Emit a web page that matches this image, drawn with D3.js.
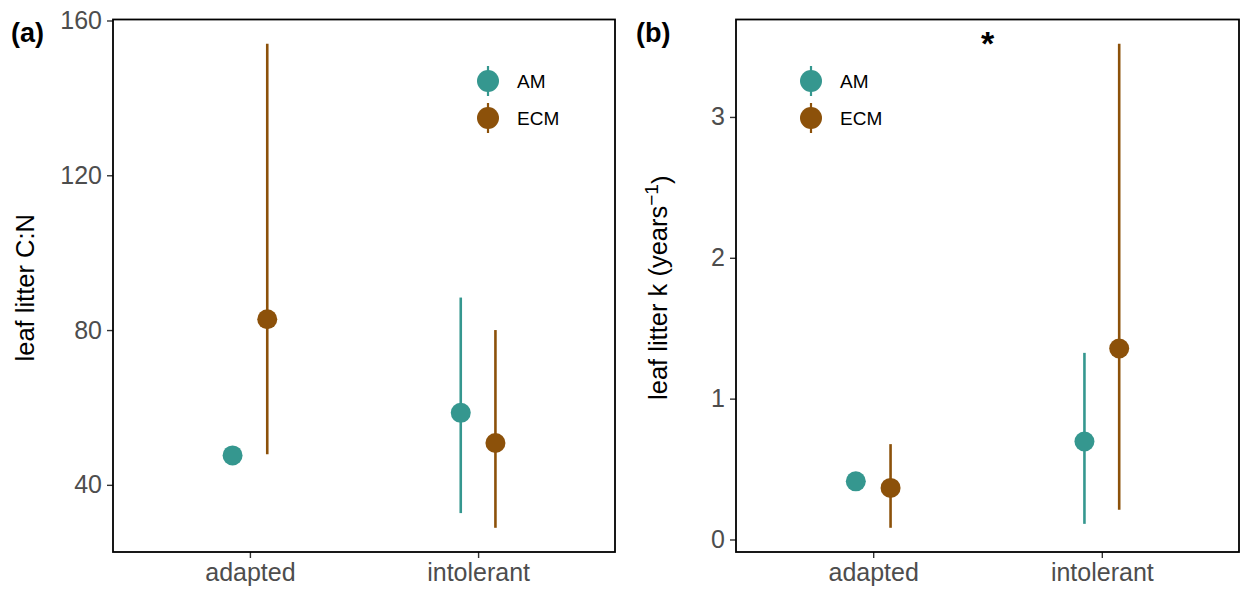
<!DOCTYPE html>
<html>
<head>
<meta charset="utf-8">
<script src="https://cdn.jsdelivr.net/npm/d3@7"></script>
<style>
  html, body { margin: 0; padding: 0; background: #fff; }
  svg { display: block; font-family: "Liberation Sans", Arial, sans-serif; }
</style>
</head>
<body>
<svg id="chart" width="1241" height="592"></svg>
<script>
// Shade tolerance groups and mycorrhizal types
const groups = ["adapted", "intolerant"];
const types = ["AM", "ECM"];
const typeColors = ["#35978f", "#8c510a"];

// Panel (a): leaf litter C:N — mean with interval (lower, upper)
const cnMean  = { AM: [47.6, 58.6], ECM: [82.8, 50.8] };
const cnLower = { AM: [47.6, 32.7], ECM: [47.9, 28.9] };
const cnUpper = { AM: [47.6, 88.4], ECM: [154.0, 80.0] };
const cnTicks = [40, 80, 120, 160];

// Panel (b): leaf litter decay rate k (years^-1)
const kMean  = { AM: [0.413, 0.696], ECM: [0.366, 1.356] };
const kLower = { AM: [0.413, 0.111], ECM: [0.083, 0.212] };
const kUpper = { AM: [0.413, 1.325], ECM: [0.677, 3.52] };
const kTicks = [0, 1, 2, 3];

const svg = d3.select("#chart");
const color = d3.scaleOrdinal().domain(types).range(typeColors);

function expandDomain(lo, hi, f) {
  const d = (hi - lo) * f;
  return [lo - d, hi + d];
}

function drawPanel(opts) {
  const { left, right, top, bottom, mean, lower, upper, ticks, tag, legendX, yTitle, titleX } = opts;
  const g = svg.append("g");

  const x = d3.scalePoint().domain(groups).range([left, right]).padding(0.6);
  const dodge = x.step() * 0.076;
  const offset = { AM: -dodge, ECM: dodge };

  const allLo = d3.min(types.flatMap(t => lower[t]));
  const allHi = d3.max(types.flatMap(t => upper[t]));
  const y = d3.scaleLinear().domain(expandDomain(allLo, allHi, 0.05)).range([bottom, top]);

  // y axis
  const yAxis = g.append("g").attr("transform", `translate(${left},0)`)
    .call(d3.axisLeft(y).tickValues(ticks).tickFormat(d3.format("d")).tickSize(6).tickPadding(5));
  yAxis.select(".domain").remove();
  yAxis.selectAll(".tick line").attr("stroke", "#333").attr("stroke-width", 1.4);
  yAxis.selectAll(".tick text").attr("fill", "#4d4d4d").attr("font-size", 25)
    .attr("font-family", "Liberation Sans, Arial, sans-serif");

  // x axis
  const xAxis = g.append("g").attr("transform", `translate(0,${bottom})`)
    .call(d3.axisBottom(x).tickSize(6).tickPadding(5));
  xAxis.select(".domain").remove();
  xAxis.selectAll(".tick line").attr("stroke", "#333").attr("stroke-width", 1.4);
  xAxis.selectAll(".tick text").attr("fill", "#4d4d4d").attr("font-size", 25)
    .attr("font-family", "Liberation Sans, Arial, sans-serif");

  // intervals and means
  const rows = [];
  types.forEach(t => groups.forEach((grp, i) => {
    rows.push({ type: t, group: grp, mean: mean[t][i], lo: lower[t][i], hi: upper[t][i] });
  }));

  g.selectAll("line.ci").data(rows).join("line").attr("class", "ci")
    .attr("x1", d => x(d.group) + offset[d.type])
    .attr("x2", d => x(d.group) + offset[d.type])
    .attr("y1", d => y(d.lo)).attr("y2", d => y(d.hi))
    .attr("stroke", d => color(d.type)).attr("stroke-width", 2.6);

  g.selectAll("circle.pt").data(rows).join("circle").attr("class", "pt")
    .attr("cx", d => x(d.group) + offset[d.type])
    .attr("cy", d => y(d.mean)).attr("r", 10)
    .attr("fill", d => color(d.type));

  // panel border
  g.append("rect").attr("x", left).attr("y", top)
    .attr("width", right - left).attr("height", bottom - top)
    .attr("fill", "none").attr("stroke", "#000").attr("stroke-width", 1.8);

  // legend
  const lg = g.append("g");
  types.forEach((t, i) => {
    const cy = 81 + i * 37;
    lg.append("line").attr("x1", legendX).attr("x2", legendX)
      .attr("y1", cy - 15).attr("y2", cy + 15)
      .attr("stroke", color(t)).attr("stroke-width", 2.2);
    lg.append("circle").attr("cx", legendX).attr("cy", cy).attr("r", 11).attr("fill", color(t));
    lg.append("text").attr("x", legendX + 29).attr("y", cy).attr("dy", "0.35em")
      .attr("font-size", 19).attr("fill", "#000").text(t);
  });

  // tag
  g.append("text").attr("x", tag.x).attr("y", 42).attr("font-size", 27)
    .attr("font-weight", "bold").attr("fill", "#000").text(tag.label);

  // y title
  const cy = (top + bottom) / 2 + 2;
  const title = g.append("text")
    .attr("transform", `translate(${titleX},${cy}) rotate(-90)`)
    .attr("text-anchor", "middle").attr("font-size", 25.5).attr("fill", "#000");
  yTitle(title);

  return { x, y, g };
}

const pa = drawPanel({
  left: 113, right: 615, top: 19.5, bottom: 552,
  mean: cnMean, lower: cnLower, upper: cnUpper, ticks: cnTicks,
  tag: { x: 11, label: "(a)" }, legendX: 488, titleX: 34,
  yTitle: t => t.text("leaf litter C:N")
});

const pb = drawPanel({
  left: 736, right: 1239, top: 19.5, bottom: 552,
  mean: kMean, lower: kLower, upper: kUpper, ticks: kTicks,
  tag: { x: 636, label: "(b)" }, legendX: 811, titleX: 667,
  yTitle: t => {
    t.append("tspan").text("leaf litter k (years");
    t.append("tspan").attr("dy", "-0.45em").attr("font-size", 19).text("\u22121");
    t.append("tspan").attr("dy", "0.45em").text(")");
  }
});

// significance marker between the shade groups
const starX = (pb.x("adapted") + pb.x("intolerant")) / 2;
pb.g.append("text").attr("x", starX).attr("y", 55)
  .attr("text-anchor", "middle").attr("font-size", 34).attr("font-weight", "bold")
  .attr("fill", "#000").text("*");
</script>
</body>
</html>
